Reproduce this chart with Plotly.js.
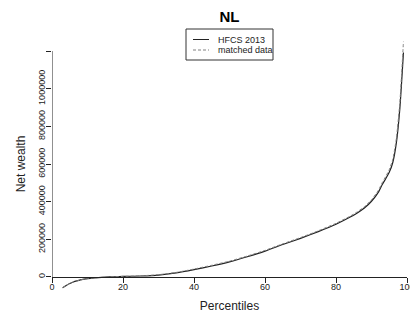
<!DOCTYPE html>
<html>
<head>
<meta charset="utf-8">
<script src="https://cdn.plot.ly/plotly-3.0.1.min.js"></script>
<style>html,body{margin:0;padding:0;background:#fff;}#chart{width:410px;height:320px;}</style>
</head>
<body>
<div id="chart"></div>
<script>
var percentiles = [3, 4, 5, 6, 7, 8, 10, 12, 14, 16, 18, 20, 25, 30, 35, 40, 45, 50, 55, 60, 65, 70, 75, 80, 84, 86, 88, 90, 92, 93, 94, 95, 96, 97, 98, 99];
// Net wealth, HFCS 2013 (solid)
var hfcs2013 = [-57000, -45000, -35000, -27000, -21000, -16000, -9000, -5000, -2000, 0, 1000, 2500, 5000, 10000, 22000, 39000, 58000, 80000, 107000, 137000, 172000, 205000, 241000, 280000, 318000, 340000, 366000, 402000, 452000, 490000, 522000, 556000, 608000, 712000, 898000, 1192000];
// Net wealth, matched data (dashed)
var matched = [-57000, -45000, -35000, -27000, -21000, -16000, -9000, -5000, -2000, 0, 1500, 3000, 6000, 12000, 24000, 42000, 62000, 84000, 111000, 141000, 176000, 209000, 245000, 285000, 323000, 346000, 373000, 410000, 462000, 500000, 533000, 570000, 625000, 735000, 930000, 1250000];
var seriesNames = ['HFCS 2013', 'matched data'];
var xTicks = [0, 20, 40, 60, 80, 100];
var yTicks = [0, 200000, 400000, 600000, 800000, 1000000, 1200000];
var yTickText = ['0', '200000', '400000', '600000', '800000', '1000000', ''];

var W = 410, H = 320;
var M = {l: 52, r: 3, t: 36, b: 28};
var yRange = [-80000, 1280000];
var pw = W - M.l - M.r, ph = H - M.t - M.b;
function px(x) { return (x - M.l) / pw; }
function py(y) { return (H - M.b - y) / ph; }

var font = 'Liberation Sans, Arial, Helvetica, sans-serif';
var solidColor = '#222222', dashColor = '#808080';

var traces = [
  {x: percentiles, y: hfcs2013, name: seriesNames[0], type: 'scatter', mode: 'lines',
   line: {color: solidColor, width: 1.2, shape: 'spline', smoothing: 0.5}, showlegend: false},
  {x: percentiles, y: matched, name: seriesNames[1], type: 'scatter', mode: 'lines',
   line: {color: dashColor, width: 1, dash: '3px,2px', shape: 'spline', smoothing: 0.5}, showlegend: false}
];

var zeroPos = (0 - yRange[0]) / (yRange[1] - yRange[0]);

var layout = {
  width: W, height: H,
  margin: M,
  paper_bgcolor: '#fff', plot_bgcolor: '#fff',
  font: {family: font, color: '#222', size: 9},
  title: {text: '<b>NL</b>', font: {family: font, size: 15, color: '#000'},
          xref: 'paper', x: 0.5, xanchor: 'center', yref: 'container', y: 1 - 17 / H, yanchor: 'middle'},
  xaxis: {range: [0, 100], anchor: 'free', position: zeroPos, tickvals: xTicks, ticktext: xTicks.map(String),
          showgrid: false, zeroline: false, showline: true, linecolor: '#222', linewidth: 1,
          ticks: 'outside', ticklen: 5, tickcolor: '#222', tickfont: {size: 9, color: '#222'},
          ticklabelstandoff: -4, ticklabeloverflow: 'allow',
          title: {text: 'Percentiles', font: {size: 12, color: '#222'}, standoff: 10}},
  yaxis: {range: yRange, tickvals: yTicks, ticktext: yTickText, tickangle: -90,
          showgrid: false, zeroline: false, showline: false,
          ticks: 'outside', ticklen: 5, tickcolor: '#222', tickfont: {size: 9, color: '#222'},
          ticklabelstandoff: -3,
          title: {text: 'Net wealth', font: {size: 12, color: '#222'}, standoff: 9}},
  shapes: [
    {type: 'line', xref: 'x', yref: 'y', x0: 0, x1: 0, y0: 0, y1: 1200000, line: {color: '#222', width: 1}},
    {type: 'rect', xref: 'paper', yref: 'paper', x0: px(186), x1: px(273), y0: py(60), y1: py(29),
     line: {color: '#333', width: 1}, fillcolor: '#fff'},
    {type: 'line', xref: 'paper', yref: 'paper', x0: px(193), x1: px(209), y0: py(39.5), y1: py(39.5),
     line: {color: solidColor, width: 1}},
    {type: 'line', xref: 'paper', yref: 'paper', x0: px(193), x1: px(209), y0: py(50), y1: py(50),
     line: {color: dashColor, width: 1, dash: '3px,2px'}}
  ],
  annotations: [
    {text: seriesNames[0], xref: 'paper', yref: 'paper', x: px(216), y: py(39.5), xanchor: 'left', yanchor: 'middle',
     showarrow: false, font: {size: 9, color: '#222'}},
    {text: seriesNames[1], xref: 'paper', yref: 'paper', x: px(216), y: py(50), xanchor: 'left', yanchor: 'middle',
     showarrow: false, font: {size: 9, color: '#222'}}
  ]
};

Plotly.newPlot('chart', traces, layout, {displayModeBar: false, staticPlot: true});
</script>
</body>
</html>
